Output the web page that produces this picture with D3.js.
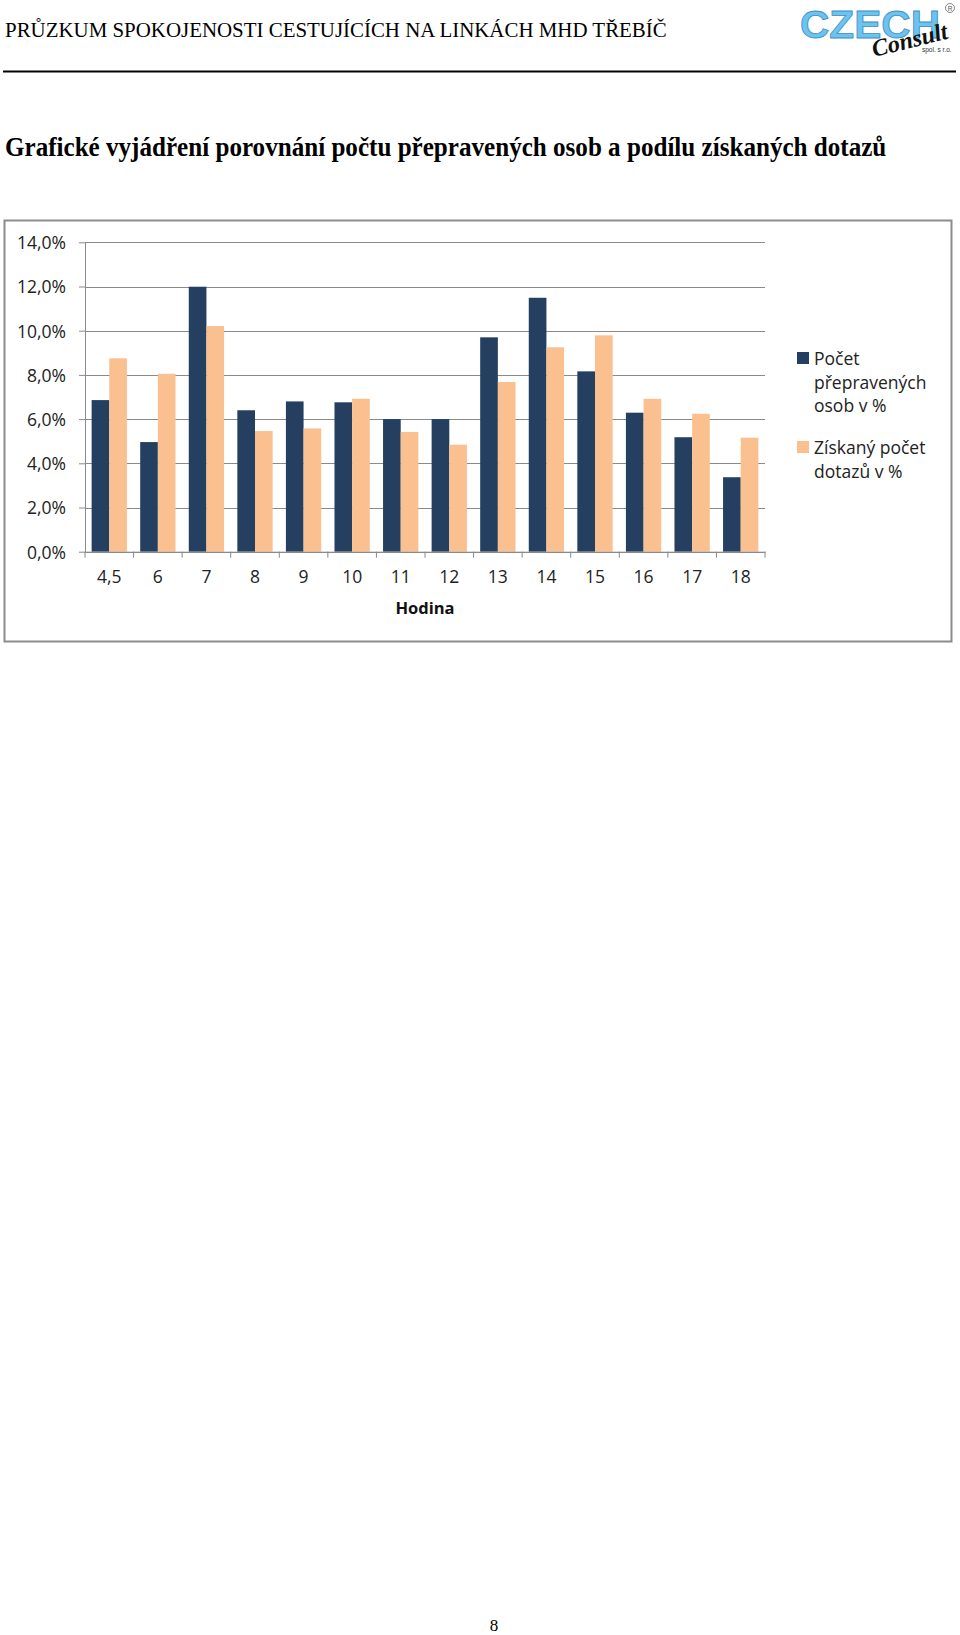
<!DOCTYPE html>
<html>
<head>
<meta charset="utf-8">
<script src="https://cdn.jsdelivr.net/npm/d3@7"></script>
<style>
  html, body { margin: 0; padding: 0; background: #fff; }
  svg { display: block; }
</style>
</head>
<body>
<div id="page"></div>
<script>
// data
const hours = ["4,5", "6", "7", "8", "9", "10", "11", "12", "13", "14", "15", "16", "17", "18"];
const passengers = [6.86, 4.96, 11.99, 6.40, 6.80, 6.76, 6.00, 6.00, 9.70, 11.49, 8.16, 6.29, 5.18, 3.37];
const surveys = [8.75, 8.05, 10.21, 5.46, 5.58, 6.92, 5.42, 4.84, 7.68, 9.25, 9.79, 6.92, 6.24, 5.16];
const seriesNames = ["Počet přepravených osob v %", "Získaný počet dotazů v %"];
const legendLines = [["Počet", "přepravených", "osob v %"], ["Získaný počet", "dotazů v %"]];
const yTicks = [0, 2, 4, 6, 8, 10, 12, 14];

const colors = ["#243F60", "#FAC090"];
const chartFont = "'Open Sans', sans-serif";

const svg = d3.select("#page").append("svg")
  .attr("width", 960)
  .attr("height", 1635);

// page header
function fitText(sel, width) {
  const w = sel.node().getComputedTextLength();
  const fs = parseFloat(sel.attr("font-size"));
  sel.attr("font-size", fs * width / w);
}

const header = svg.append("text")
  .attr("x", 5).attr("y", 37)
  .attr("font-family", "'Liberation Serif', 'Times New Roman', serif")
  .attr("font-size", 20)
  .text("PRŮZKUM SPOKOJENOSTI CESTUJÍCÍCH NA LINKÁCH MHD TŘEBÍČ");
fitText(header, 662);

svg.append("line")
  .attr("x1", 3).attr("x2", 956)
  .attr("y1", 71.5).attr("y2", 71.5)
  .attr("stroke", "#000").attr("stroke-width", 2);

// logo
const logo = svg.append("g");
logo.append("text")
  .attr("x", 800).attr("y", 38)
  .attr("font-family", "'Liberation Sans', Arial, sans-serif")
  .attr("font-weight", "bold")
  .attr("font-size", 38)
  .attr("fill", "#6CC4EE")
  .attr("stroke", "#3C8FC8")
  .attr("stroke-width", 0.8)
  .attr("textLength", 140)
  .attr("lengthAdjust", "spacingAndGlyphs")
  .text("CZECH");
logo.append("text")
  .attr("transform", "translate(874,57) rotate(-14)")
  .attr("font-family", "'Liberation Serif', serif")
  .attr("font-style", "italic")
  .attr("font-weight", "bold")
  .attr("font-size", 24)
  .attr("fill", "#111")
  .text("Consult");
logo.append("text")
  .attr("x", 922).attr("y", 52)
  .attr("font-family", "'Liberation Sans', sans-serif")
  .attr("font-size", 6.5)
  .attr("fill", "#333")
  .text("spol. s r.o.");
logo.append("circle")
  .attr("cx", 950).attr("cy", 8).attr("r", 4.5)
  .attr("fill", "none").attr("stroke", "#555").attr("stroke-width", 0.7);
logo.append("text")
  .attr("x", 950).attr("y", 10.5)
  .attr("text-anchor", "middle")
  .attr("font-family", "'Liberation Sans', sans-serif")
  .attr("font-size", 6.5)
  .attr("fill", "#555")
  .text("R");

// section title
const title = svg.append("text")
  .attr("transform", "translate(5,156) scale(1,1.1)")
  .attr("font-family", "'Liberation Serif', 'Times New Roman', serif")
  .attr("font-weight", "bold")
  .attr("font-size", 22)
  .text("Grafické vyjádření porovnání počtu přepravených osob a podílu získaných dotazů");
fitText(title, 881);

// chart frame
svg.append("rect")
  .attr("x", 4.5).attr("y", 220.5)
  .attr("width", 947).attr("height", 421)
  .attr("fill", "#fff")
  .attr("stroke", "#8C8C8C")
  .attr("stroke-width", 2);

const plot = { left: 85, right: 765, top: 242.3, bottom: 551.7 };

const x = d3.scaleBand()
  .domain(hours)
  .range([plot.left, plot.right]);

const y = d3.scaleLinear()
  .domain([0, 14])
  .range([plot.bottom, plot.top]);

// two bars per hour, 150 % gap
const inner = d3.scaleBand()
  .domain([0, 1])
  .range([0, x.bandwidth()])
  .paddingOuter(0.75 / 2)
  .paddingInner(0);

const g = svg.append("g");

// gridlines
g.append("g")
  .attr("transform", `translate(${plot.left},0)`)
  .call(d3.axisLeft(y).tickValues(yTicks).tickSize(-(plot.right - plot.left)).tickFormat(""))
  .call(s => s.select(".domain").remove())
  .call(s => s.selectAll("line").attr("stroke", "#8A8A8A").attr("shape-rendering", "crispEdges"));

// bars
const rows = hours.map((h, i) => ({ hour: h, values: [passengers[i], surveys[i]] }));
g.append("g").selectAll("g")
  .data(rows)
  .join("g")
  .attr("transform", d => `translate(${x(d.hour)},0)`)
  .selectAll("rect")
  .data(d => d.values.map((v, k) => ({ k, v })))
  .join("rect")
  .attr("x", d => inner(d.k))
  .attr("width", inner.bandwidth())
  .attr("y", d => y(d.v))
  .attr("height", d => y(0) - y(d.v))
  .attr("fill", d => colors[d.k]);

// y axis
const yAxis = g.append("g")
  .attr("transform", `translate(${plot.left},0)`)
  .call(d3.axisLeft(y).tickValues(yTicks).tickSize(6).tickSizeOuter(0).tickPadding(13)
    .tickFormat(d => d3.format(".1f")(d).replace(".", ",") + "%"));
yAxis.select(".domain").attr("stroke", "#8A8A8A");
yAxis.selectAll("line").attr("stroke", "#8A8A8A");
yAxis.selectAll("text")
  .attr("font-family", chartFont)
  .attr("font-size", 17.5)
  .attr("fill", "#222")
  .attr("dy", "0.36em");

// x axis: labels in the middle of each hour, ticks on the boundaries
const xAxis = g.append("g")
  .attr("transform", `translate(0,${plot.bottom})`)
  .call(d3.axisBottom(x).tickSize(0).tickPadding(19));
xAxis.select(".domain").attr("stroke", "#8A8A8A");
xAxis.selectAll("text")
  .attr("font-family", chartFont)
  .attr("font-size", 17.5)
  .attr("fill", "#222");

const edges = hours.map(h => x(h)).concat([plot.right]);
xAxis.selectAll(".edge")
  .data(edges)
  .join("line")
  .attr("class", "edge")
  .attr("x1", d => d).attr("x2", d => d)
  .attr("y1", 0).attr("y2", 6)
  .attr("stroke", "#8A8A8A");

g.append("text")
  .attr("x", (plot.left + plot.right) / 2)
  .attr("y", 614)
  .attr("text-anchor", "middle")
  .attr("font-family", chartFont)
  .attr("font-weight", "bold")
  .attr("font-size", 16.5)
  .attr("fill", "#111")
  .text("Hodina");

// legend
const legendTop = [352, 441];
const legend = g.append("g").selectAll("g")
  .data(seriesNames)
  .join("g")
  .attr("transform", (d, i) => `translate(797,${legendTop[i]})`);
legend.append("rect")
  .attr("width", 12).attr("height", 12)
  .attr("fill", (d, i) => colors[i]);
legend.append("text")
  .attr("font-family", chartFont)
  .attr("font-size", 17.5)
  .attr("fill", "#222")
  .selectAll("tspan")
  .data((d, i) => legendLines[i])
  .join("tspan")
  .attr("x", 17)
  .attr("y", (d, j) => 13 + j * 23.5)
  .text(d => d);

// page number
svg.append("text")
  .attr("x", 494).attr("y", 1631)
  .attr("text-anchor", "middle")
  .attr("font-family", "'Liberation Serif', serif")
  .attr("font-size", 17)
  .text("8");
</script>
</body>
</html>
